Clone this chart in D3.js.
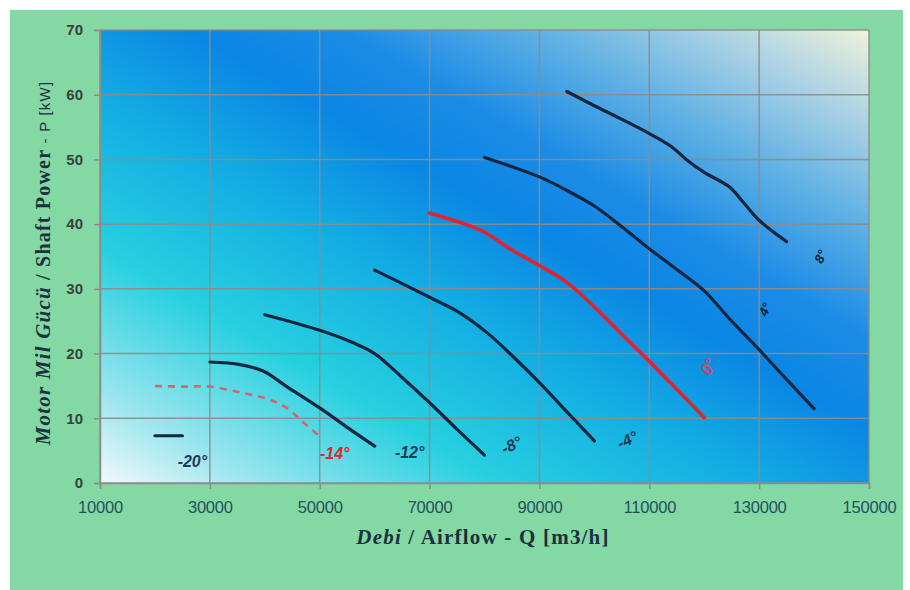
<!DOCTYPE html>
<html><head><meta charset="utf-8">
<script src="https://cdn.jsdelivr.net/npm/d3@7"></script>
<style>html,body{margin:0;padding:0;background:#fff;}svg{display:block;}</style>
</head><body>
<svg id="chart" width="910" height="590"></svg>
<script>
// ---- data ----
const seriesNames = ["-20°", "-14°", "-12°", "-8°", "-4°", "0°", "4°", "8°"];
const xTicks = [10000, 30000, 50000, 70000, 90000, 110000, 130000, 150000];
const yTicks = [0, 10, 20, 30, 40, 50, 60, 70];
const qM20 = [20000, 25000];
const pM20 = [7.3, 7.3];
const qM14 = [20000, 25000, 30000, 36000, 40500, 44000, 47000, 50000];
const pM14 = [15.0, 14.9, 14.9, 13.9, 13.0, 11.6, 9.4, 7.2];
const qM12 = [30000, 35500, 39700, 44000, 50000, 55000, 60000];
const pM12 = [18.7, 18.3, 17.3, 14.9, 11.6, 8.6, 5.7];
const qM8 = [40000, 50000, 56000, 60000, 65000, 70000, 75000, 80000];
const pM8 = [26.0, 23.6, 21.7, 20.0, 16.3, 12.4, 8.3, 4.3];
const qM4 = [60000, 70000, 75500, 80500, 85000, 90000, 95000, 100000];
const pM4 = [32.9, 28.7, 26.3, 23.2, 19.7, 15.5, 11.0, 6.5];
const q0 = [70000, 79200, 85000, 90000, 95000, 100000, 105000, 110000, 115000, 120000];
const p0 = [41.7, 39.1, 36.0, 33.6, 31.0, 27.2, 23.0, 18.8, 14.5, 10.1];
const q4 = [80000, 90000, 95000, 100000, 105000, 110000, 115000, 120000, 125000, 130000, 135000, 140000];
const p4 = [50.3, 47.3, 45.2, 42.8, 39.6, 36.2, 33.0, 29.7, 25.0, 20.6, 16.0, 11.5];
const q8 = [95000, 100000, 105000, 110000, 114000, 117000, 120000, 124500, 127000, 130000, 135000];
const p8 = [60.5, 58.3, 56.2, 54.0, 52.0, 49.8, 48.0, 45.8, 43.5, 40.6, 37.3];
const seriesQ = [qM20, qM14, qM12, qM8, qM4, q0, q4, q8];
const seriesP = [pM20, pM14, pM12, pM8, pM4, p0, p4, p8];

// ---- styles (not data) ----
const styles = {
  "-20°": {stroke: "#13263f", width: 3.2, dash: null, lc: "#1e3a58", dx: 10, dy: 26, rot: 0},
  "-14°": {stroke: "#d9626b", width: 2.6, dash: "7,6", lc: "#e3232d", dx: 15, dy: 17, rot: 0},
  "-12°": {stroke: "#13263f", width: 3.2, dash: null, lc: "#1e3a58", dx: 35, dy: 6, rot: 0},
  "-8°":  {stroke: "#13263f", width: 3.2, dash: null, lc: "#1e3a58", dx: 27, dy: -10, rot: -25},
  "-4°":  {stroke: "#13263f", width: 3.2, dash: null, lc: "#1e3a58", dx: 33, dy: -1, rot: -25},
  "0°":   {stroke: "#e3222d", width: 3.6, dash: null, lc: "#d8455e", dx: 4, dy: -51, rot: -65},
  "4°":   {stroke: "#13263f", width: 3.2, dash: null, lc: "#13202e", dx: -49, dy: -99, rot: -65},
  "8°":   {stroke: "#13263f", width: 3.2, dash: null, lc: "#13202e", dx: 34, dy: 15, rot: -65}
};

const svg = d3.select("#chart");
const W = 910, H = 590;
const m = {left: 100, top: 30, right: 869, bottom: 483};

// outer background
svg.append("rect").attr("x", 0).attr("y", 0).attr("width", W).attr("height", H).attr("fill", "#ffffff");
svg.append("rect").attr("x", 10).attr("y", 10).attr("width", 893).attr("height", 580).attr("fill", "#84d8a4");

const x = d3.scaleLinear().domain([10000, 150000]).range([m.left, m.right]);
const y = d3.scaleLinear().domain([0, 70]).range([m.bottom, m.top]);

// plot gradient
const defs = svg.append("defs");
const g1 = defs.append("linearGradient").attr("id", "bg").attr("x1", 0).attr("y1", 1).attr("x2", 1).attr("y2", 0);
[[0, "#f2f9fb"], [0.1, "#9ce6ee"], [0.26, "#27d0e0"], [0.42, "#14aee3"], [0.56, "#0a86e4"], [0.66, "#1c8ce6"], [0.78, "#5eb0e4"], [0.9, "#aed3e4"], [1, "#eef2da"]]
  .forEach(([o, c]) => g1.append("stop").attr("offset", o).attr("stop-color", c));

svg.append("rect").attr("x", m.left).attr("y", m.top)
  .attr("width", m.right - m.left).attr("height", m.bottom - m.top).attr("fill", "url(#bg)");

// grid
const grid = svg.append("g");
grid.selectAll(".gx").data(xTicks).join("line")
  .attr("x1", d => x(d)).attr("x2", d => x(d)).attr("y1", m.top).attr("y2", m.bottom)
  .attr("stroke", "#8c8c8c").attr("stroke-width", 1.5).attr("stroke-opacity", 0.9);
grid.selectAll(".gy").data(yTicks).join("line")
  .attr("x1", m.left).attr("x2", m.right).attr("y1", d => y(d)).attr("y2", d => y(d))
  .attr("stroke", "#8c8c8c").attr("stroke-width", 1.5).attr("stroke-opacity", 0.9);

// axes
const xAxis = svg.append("g").attr("transform", `translate(0,${m.bottom})`)
  .call(d3.axisBottom(x).tickValues(xTicks).tickSize(6).tickPadding(12).tickFormat(d3.format("d")));
const yAxis = svg.append("g").attr("transform", `translate(${m.left},0)`)
  .call(d3.axisLeft(y).tickValues(yTicks).tickSize(6).tickPadding(11).tickFormat(d3.format("d")));
[xAxis, yAxis].forEach(a => {
  a.select(".domain").attr("stroke", "#8c8c8c").attr("stroke-width", 1.5);
  a.selectAll(".tick line").attr("stroke", "#8c8c8c").attr("stroke-width", 1.5);
});
xAxis.selectAll("text").attr("font-family", "'Liberation Sans', Arial, sans-serif")
  .attr("font-size", 16.5).attr("fill", "#24505f").attr("letter-spacing", -0.2);
yAxis.selectAll("text").attr("font-family", "'Liberation Sans', Arial, sans-serif")
  .attr("font-size", 15).attr("font-weight", "bold").attr("fill", "#3c4040");

// lines
const line = d3.line().x(d => x(d[0])).y(d => y(d[1])).curve(d3.curveCatmullRom.alpha(0.5));
const series = seriesNames.map((n, i) => ({name: n, pts: seriesQ[i].map((q, j) => [q, seriesP[i][j]])}));
svg.append("g").selectAll("path").data(series).join("path")
  .attr("d", d => line(d.pts))
  .attr("fill", "none")
  .attr("stroke", d => styles[d.name].stroke)
  .attr("stroke-width", d => styles[d.name].width)
  .attr("stroke-dasharray", d => styles[d.name].dash)
  .attr("stroke-linecap", d => styles[d.name].dash ? "butt" : "round")
  .attr("stroke-linejoin", "round");

// labels
svg.append("g").selectAll("text").data(series).join("text")
  .attr("transform", d => {
    const e = d.pts[d.pts.length - 1];
    const s = styles[d.name];
    return `translate(${x(e[0]) + s.dx},${y(e[1]) + s.dy}) rotate(${s.rot})`;
  })
  .attr("text-anchor", "middle").attr("dominant-baseline", "central")
  .attr("font-family", "'Liberation Sans', Arial, sans-serif")
  .attr("font-style", "italic").attr("font-weight", "bold")
  .attr("font-size", d => (d.name === "4°" || d.name === "8°") ? 13 : 16)
  .attr("fill", d => styles[d.name].lc)
  .text(d => d.name);

// axis titles
const xt = svg.append("text").attr("x", 483).attr("y", 544).attr("text-anchor", "middle")
  .attr("font-family", "'Liberation Serif', 'Times New Roman', serif").attr("font-size", 21)
  .attr("letter-spacing", 1.2)
  .attr("font-weight", "bold").attr("fill", "#1b3040");
xt.append("tspan").attr("font-style", "italic").text("Debi");
xt.append("tspan").text(" / Airflow - Q [m3/h]");

const yt = svg.append("text").attr("transform", "translate(50,263) rotate(-90)").attr("text-anchor", "middle")
  .attr("font-family", "'Liberation Serif', 'Times New Roman', serif")
  .attr("letter-spacing", 1.2).attr("fill", "#1b3040");
yt.append("tspan").attr("font-style", "italic").attr("font-weight", "bold").attr("font-size", 21).text("Motor Mil Gücü");
yt.append("tspan").attr("font-weight", "bold").attr("font-size", 20).text(" / Shaft Power");
yt.append("tspan").attr("font-family", "'Liberation Sans', Arial, sans-serif").attr("font-size", 15).text(" - P [kW]");
</script>
</body></html>
